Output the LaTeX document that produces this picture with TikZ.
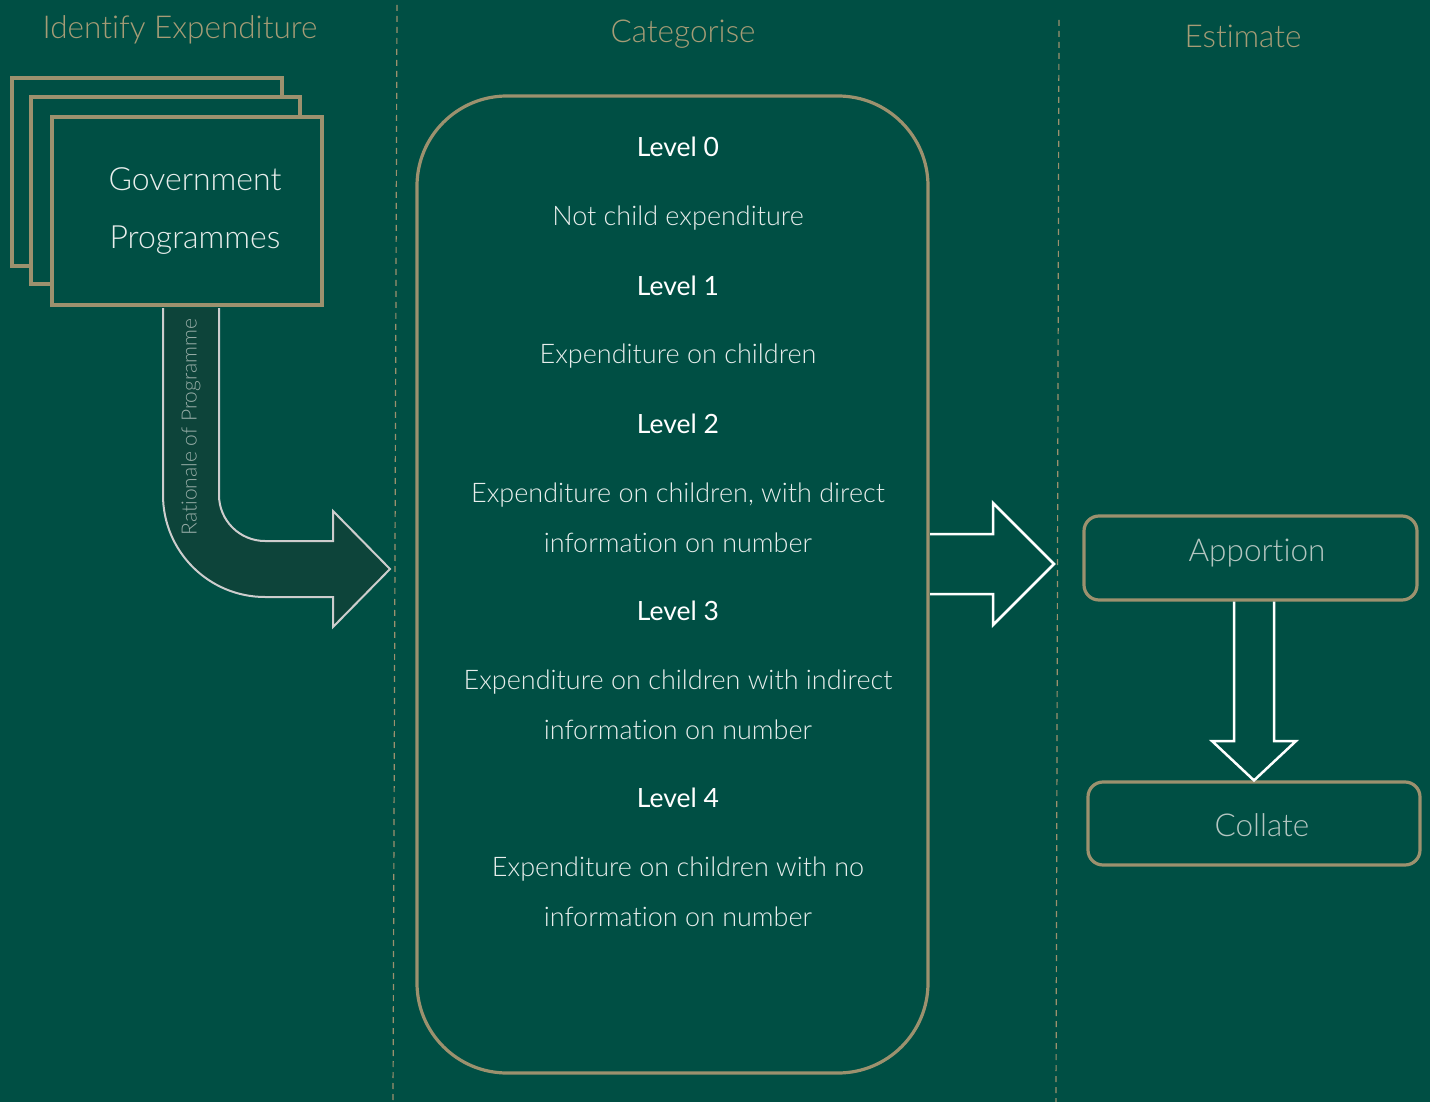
\documentclass[tikz,border=0pt]{standalone}
\usepackage{fontspec}
\setmainfont{Lato}[Ligatures=NoCommon]
\newfontfamily\lightfont{Lato Light}[Ligatures=NoCommon]
\definecolor{bg}{RGB}{0,79,68}
\definecolor{gold}{RGB}{156,145,110}
\definecolor{titlec}{RGB}{166,156,118}
\definecolor{arrfill}{RGB}{13,68,58}
\definecolor{arrline}{RGB}{205,205,205}
\definecolor{desc}{RGB}{232,238,236}
\definecolor{boxtxt}{RGB}{180,198,193}
\definecolor{ratc}{RGB}{150,172,166}
\tikzset{
  title/.style={text=titlec,font=\lightfont\fontsize{31.5}{36}\selectfont},
  goldbox/.style={draw=gold,line width=3.2pt},
  lvl/.style={text=white,font=\fontsize{26.5}{30}\selectfont},
  dsc/.style={text=desc,font=\lightfont\fontsize{27}{30}\selectfont,align=center},
  divider/.style={gold,line width=1.2pt,dash pattern=on 6pt off 5pt},
  estbox/.style={goldbox,rounded corners=15pt},
  esttxt/.style={text=boxtxt,font=\lightfont\fontsize{31.5}{36}\selectfont},
  whitearrow/.style={draw=white,line width=2.5pt,line join=miter}
}
\begin{document}
\begin{tikzpicture}[x=1pt,y=-1pt]
\fill[bg] (0,0) rectangle (1430,1102);
\useasboundingbox (0,0) rectangle (1430,1102);
% dividers
\draw[divider] (397,5) -- (393,1102);
\draw[divider] (1059,20) -- (1056,1102);
% titles
\node[title] (t1) at (180,30) {Identify Expenditure};
\node[title] (t2) at (683,34) {Categorise};
\node[title] (t3) at (1243,36) {Estimate};
% stacked boxes
\draw[goldbox,fill=bg] (12,78) rectangle (282,266);
\draw[goldbox,fill=bg] (31,97) rectangle (300,284);
\node[goldbox,fill=bg,minimum width=270pt,minimum height=188pt,inner sep=0pt,
  text=desc,font=\lightfont\fontsize{32}{58}\selectfont,align=center] (gp) at (187,211)
  {\hspace*{16pt}Government\\\hspace*{16pt}Programmes};
% curved arrow
\draw[fill=arrfill,draw=arrline,line width=2pt,line join=miter]
  (163,308) -- (163,495) arc[start angle=180,end angle=90,radius=102]
  -- (333,597) -- (333,627) -- (390,569) -- (333,511) -- (333,541) -- (265,541)
  arc[start angle=90,end angle=180,radius=46] -- (219,308);
\node[rotate=90,text=ratc,font=\lightfont\fontsize{21}{24}\selectfont] (rat) at (191,427) {Rationale of Programme};
% categorise box
\node[goldbox,rounded corners=90pt,minimum width=511pt,minimum height=977pt] (cat) at (672.5,584.5) {};
\node[lvl] (l0) at (678,147) {Level 0};
\node[dsc] (d0) at (678,218) {Not child expenditure};
\node[lvl] (l1) at (678,286) {Level 1};
\node[dsc] (d1) at (678,356) {Expenditure on children};
\node[lvl] (l2) at (678,424) {Level 2};
\node[dsc] (d2a) at (678,495) {Expenditure on children, with direct};
\node[dsc] (d2b) at (678,543) {information on number};
\node[lvl] (l3) at (678,611) {Level 3};
\node[dsc] (d3a) at (678,682) {Expenditure on children with indirect};
\node[dsc] (d3b) at (678,730) {information on number};
\node[lvl] (l4) at (678,798) {Level 4};
\node[dsc] (d4a) at (678,869) {Expenditure on children with no};
\node[dsc] (d4b) at (678,917) {information on number};
% right arrow
\draw[whitearrow] (930,534) -- (993,534) -- (993,503) -- (1054,564) -- (993,625) -- (993,594) -- (930,594);
% estimate boxes
\node[estbox,minimum width=333pt,minimum height=84pt] (app) at (1250.5,558) {};
\node[esttxt] (appt) at (1257,553) {Apportion};
\node[estbox,minimum width=332pt,minimum height=83pt] (col) at (1254,823.5) {};
\node[esttxt] (colt) at (1262,825) {Collate};
% down arrow
\draw[whitearrow] (app.south -| 1234,0) -- (1234,741) -- (1212,741) -- (col.north) -- (1296,741) -- (1274,741) -- (app.south -| 1274,0);
\end{tikzpicture}
\end{document}
